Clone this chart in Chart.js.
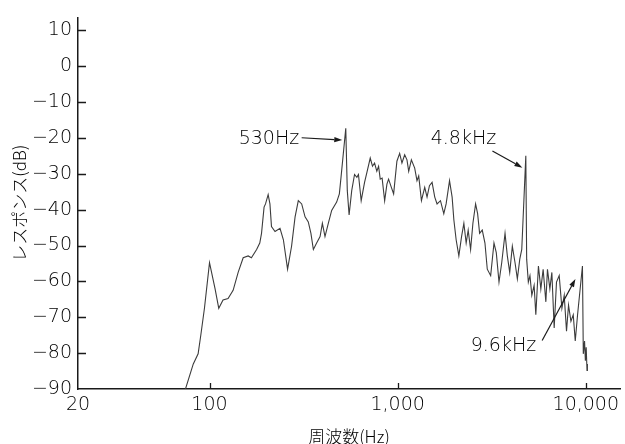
<!DOCTYPE html>
<html lang="ja">
<head>
<meta charset="utf-8">
<title>周波数特性</title>
<script src="https://cdn.jsdelivr.net/npm/chart.js@4.4.1/dist/chart.umd.min.js"></script>
<style>
  html, body { margin: 0; padding: 0; background: #ffffff; }
  #wrap { width: 625px; height: 444px; position: relative; }
</style>
</head>
<body>
<div id="wrap"><canvas id="chart"></canvas></div>
<script>
// Measured response: frequency (Hz) and level (dB)
const freqHz = [
  74, 82, 87, 90, 94, 100, 107, 112, 118, 125.5, 133.5, 142, 151, 160.5, 167, 178, 185, 189, 195, 198.5,
  205, 209.5, 213.5, 223, 237, 247, 260, 273, 285, 296.5, 309, 322, 335, 346, 356.5, 371, 387, 398, 411,
  428, 446, 474, 490, 500, 530, 540, 552, 570, 590, 607, 619, 640, 667, 686, 715, 735, 754, 775, 792,
  808, 827, 853, 877, 895, 926, 952, 991, 1025, 1054, 1090, 1121, 1145, 1183, 1232, 1267, 1294, 1338,
  1393, 1433, 1476, 1524, 1575, 1620, 1689, 1759, 1810, 1887, 1948, 1990, 2046, 2115, 2186, 2249, 2313,
  2371, 2442, 2512, 2596, 2661, 2727, 2816, 2911, 2995, 3122, 3251, 3344, 3457, 3574, 3722, 3828, 3942,
  4070, 4207, 4328, 4458, 4568, 4800, 4850, 4950, 5050, 5166, 5313, 5425, 5601, 5769, 5934, 6134, 6256,
  6443, 6602, 6792, 6987, 7223, 7466, 7680, 7899, 8096, 8339, 8577, 8790, 9043, 9600, 9700, 9850, 9950,
  10050, 10150, 10200
];
const responseDb = [
  -90.5, -83, -80.2, -74.8, -67.5, -54.8, -62, -67.5, -65.2, -64.8, -62.5, -57.5, -53.4, -52.9, -53.4, -51.1, -49.3, -46.6, -39.3, -38.4,
  -35.8, -38.4, -44.7, -46.1, -45.2, -48.4, -56.6, -50.2, -42, -37.5, -38.4, -42, -43.4, -46.6, -51.1, -49.3, -47.5, -43.8, -47.5,
  -43.8, -40.2, -37.9, -35.6, -31, -17.3, -34.7, -41.5, -34.7, -30.2, -31, -30.2, -37.5, -32.4, -29.7, -25.6, -27.9, -27, -29.3, -27.9,
  -31.5, -31.2, -37.5, -32.9, -31.5, -33.8, -35.6, -26.5, -24.3, -27, -24.7, -26.1, -29.3, -26.1, -28.4, -31.9, -30.6, -37.5,
  -33.8, -36.5, -33.3, -32.4, -36.5, -38.4, -37.5, -41.1, -38.4, -31.9, -36.5, -42.9, -48.4, -52.9, -47.5, -43.8, -49.3,
  -45.7, -51.1, -43.8, -38.4, -41.1, -46.6, -45.7, -49.3, -56.6, -58.4, -49.3, -52, -60.2, -54.8, -46.6, -52.9, -57.5,
  -50.2, -54.8, -59.3, -53.8, -51.1, -25, -53.8, -60.2, -58.4, -63.9, -61.1, -69.3, -55.7, -62.1, -56.6, -65.7, -56.6,
  -62.1, -57.5, -73, -60.2, -58.4, -67.5, -63.9, -73.9, -66.6, -71.1, -69.3, -76.6, -69.3, -55.7, -80.2, -76.6, -82.1,
  -78.4, -84.8, -83
];

// Axis ticks
const freqTicks = [20, 100, 1000, 10000];
const dbTicks = [-90, -80, -70, -60, -50, -40, -30, -20, -10, 0, 10];

const TEXT_FONT = "'DejaVu Sans', 'Noto Sans CJK JP', sans-serif";
const INK = '#1a1a1a';
const TEXT_INK = '#000000';

// Small tick marks drawn on the inside of both axes
const innerTicks = {
  id: 'innerTicks',
  afterDatasetsDraw(chart) {
    const { ctx, chartArea, scales: { x, y } } = chart;
    ctx.save();
    ctx.strokeStyle = INK;
    ctx.lineWidth = 1.3;
    ctx.beginPath();
    x.ticks.forEach(t => {
      if (t.value === x.min) return;
      const px = Math.round(x.getPixelForValue(t.value)) + 0.5;
      ctx.moveTo(px, chartArea.bottom);
      ctx.lineTo(px, chartArea.bottom - 6);
    });
    y.ticks.forEach(t => {
      if (t.value === y.min) return;
      const py = Math.round(y.getPixelForValue(t.value)) + 0.5;
      ctx.moveTo(chartArea.left, py);
      ctx.lineTo(chartArea.left + 8, py);
    });
    ctx.stroke();
    ctx.restore();
  }
};

// Labelled arrows pointing at the resonance peaks
const callouts = {
  id: 'callouts',
  afterDatasetsDraw(chart, args, opts) {
    const { ctx, scales: { x, y } } = chart;
    ctx.save();
    ctx.strokeStyle = INK;
    ctx.lineWidth = 1.2;
    ctx.font = opts.font;
    ctx.textBaseline = 'middle';
    opts.items.forEach(it => {
      const tx = x.getPixelForValue(it.freq) + it.tipDx;
      const ty = y.getPixelForValue(it.db);
      const sx = tx + it.tailDx;
      const sy = ty + it.tailDy;
      const ang = Math.atan2(ty - sy, tx - sx);
      const head = 8, half = 2.6;
      const bx = tx - head * Math.cos(ang);
      const by = ty - head * Math.sin(ang);
      ctx.beginPath();
      ctx.moveTo(sx, sy);
      ctx.lineTo(bx, by);
      ctx.stroke();
      ctx.fillStyle = INK;
      ctx.beginPath();
      ctx.moveTo(tx, ty);
      ctx.lineTo(bx - half * Math.sin(ang), by + half * Math.cos(ang));
      ctx.lineTo(bx + half * Math.sin(ang), by - half * Math.cos(ang));
      ctx.closePath();
      ctx.fill();
      ctx.fillStyle = TEXT_INK;
      ctx.textAlign = it.align;
      ctx.fillText(it.text, sx + it.textDx, sy + it.textDy);
    });
    ctx.restore();
  }
};

new Chart(document.getElementById('chart'), {
  type: 'line',
  data: {
    datasets: [{
      data: freqHz.map((f, i) => ({ x: f, y: responseDb[i] })),
      borderColor: '#3c3c3c',
      borderWidth: 1.1,
      pointRadius: 0,
      tension: 0,
      fill: false
    }]
  },
  options: {
    responsive: true,
    maintainAspectRatio: false,
    devicePixelRatio: 1,
    animation: false,
    events: [],
    layout: { padding: { top: 10, right: 5, left: 0, bottom: 0 } },
    plugins: {
      legend: { display: false },
      tooltip: { enabled: false },
      callouts: {
        font: "300 19px " + TEXT_FONT,
        items: [
          { text: '530Hz', freq: 530, db: -20.6, tipDx: -3.5, tailDx: -40.6, tailDy: -2.3, align: 'right', textDx: -2.5, textDy: 0.8 },
          { text: '4.8kHz', freq: 4800, db: -28.3, tipDx: -3.4, tailDx: -30, tailDy: -16.6, align: 'center', textDx: -29, textDy: -11.7 },
          { text: '9.6kHz', freq: 9600, db: -59.3, tipDx: -7, tailDx: -33.3, tailDy: 61.6, align: 'right', textDx: -6, textDy: 5.7 }
        ]
      }
    },
    scales: {
      x: {
        type: 'logarithmic',
        min: 20,
        max: 15200,
        afterBuildTicks: s => { s.ticks = freqTicks.map(v => ({ value: v })); },
        afterFit: s => { s.height = 55; },
        grid: { display: false, drawTicks: false },
        border: { display: true, color: INK, width: 1.5 },
        ticks: {
          autoSkip: false,
          maxRotation: 0,
          padding: 5,
          color: TEXT_INK,
          font: { family: TEXT_FONT, size: 19, weight: 300 },
          callback: v => Number(v).toLocaleString('en-US')
        },
        title: {
          display: true,
          text: '周波数(Hz)',
          color: TEXT_INK,
          font: { family: "'Noto Sans CJK JP', sans-serif", size: 17, weight: 300, lineHeight: 1 },
          padding: { top: 0, bottom: -1.5 }
        }
      },
      y: {
        type: 'linear',
        min: -90,
        max: 13.6,
        afterBuildTicks: s => { s.ticks = dbTicks.map(v => ({ value: v })); },
        afterFit: s => { s.width = 78; },
        grid: { display: false, drawTicks: false },
        border: { display: true, color: INK, width: 1.5 },
        ticks: {
          autoSkip: false,
          padding: 6,
          color: TEXT_INK,
          font: { family: TEXT_FONT, size: 19, weight: 300 },
          callback: v => (v < 0 ? '\u2212' + Math.abs(v) : String(v))
        },
        title: {
          display: true,
          text: 'レスポンス(dB)',
          color: TEXT_INK,
          font: { family: "'Noto Sans CJK JP', sans-serif", size: 17, weight: 300, lineHeight: 1.2 },
          padding: { top: 9, bottom: 0 }
        }
      }
    }
  },
  plugins: [innerTicks, callouts]
});
</script>
</body>
</html>
